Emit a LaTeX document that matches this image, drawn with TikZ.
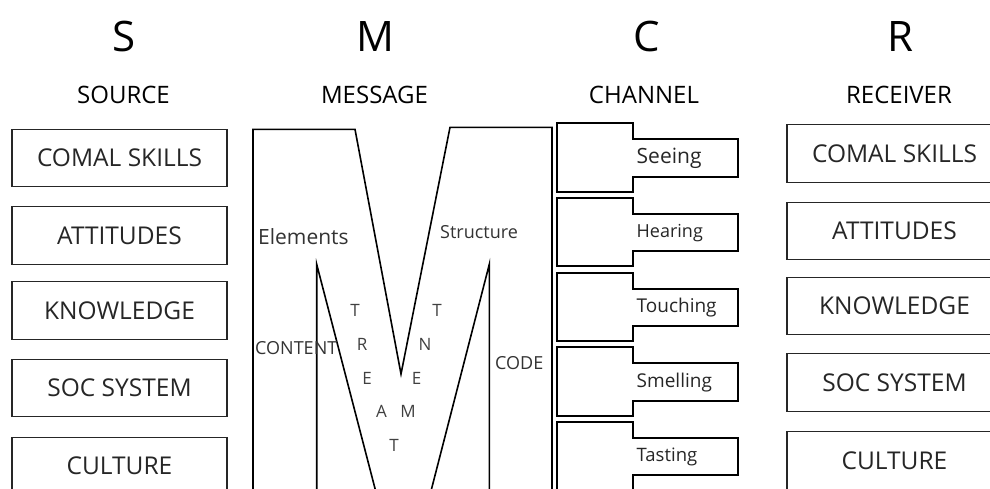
\documentclass[tikz,border=0pt]{standalone}
\usepackage{fontspec}
\setmainfont{Open Sans}
\begin{document}
\begin{tikzpicture}[x=1pt,y=-1pt,
  big/.style={font=\fontsize{42}{44}\selectfont, inner sep=0pt, anchor=base},
  head/.style={font=\fontsize{24}{26}\selectfont, inner sep=0pt, anchor=base},
  attr/.style={draw=black!85, line width=1.1pt, minimum width=215pt, minimum height=57.5pt, inner sep=0pt, font=\fontsize{24.5}{26}\selectfont, text=black!85},
  mline/.style={line width=1.6pt, line join=miter},
  chan/.style={line width=1.8pt, line join=miter},
  chtext/.style={anchor=west, inner sep=0pt, font=\fontsize{18.5}{20}\selectfont, text=black!85},
  mtext/.style={inner sep=0pt, font=\fontsize{18}{20}\selectfont, text=black!80},
  letter/.style={inner sep=0pt, font=\fontsize{17}{18}\selectfont, text=black!75}
]
\useasboundingbox (0,0) rectangle (990,488);
\clip (0,0) rectangle (990,488);

% headers
\node[big] (S) at (124,51.7) {S};
\node[big] (M) at (375,51.7) {M};
\node[big] (C) at (647,51.7) {C};
\node[big] (R) at (900,51.7) {R};
\node[head] (src) at (123.5,103.3) {SOURCE};
\node[head] (msg) at (374.5,103.3) {MESSAGE};
\node[head] (chn) at (644,103.3) {CHANNEL};
\node[head] (rcv) at (899,103.3) {RECEIVER};

% source boxes
\node[attr] (s1) at (119.5,158) {COMAL SKILLS};
\node[attr] (s2) at (119.5,235.5) {ATTITUDES};
\node[attr] (s3) at (119.5,310.5) {KNOWLEDGE};
\node[attr] (s4) at (119.5,388) {SOC SYSTEM};
\node[attr] (s5) at (119.5,465.8) {CULTURE};

% receiver boxes
\node[attr] (r1) at (894.5,153.5) {COMAL SKILLS};
\node[attr] (r2) at (894.5,231) {ATTITUDES};
\node[attr] (r3) at (894.5,306) {KNOWLEDGE};
\node[attr] (r4) at (894.5,382.5) {SOC SYSTEM};
\node[attr] (r5) at (894.5,460.5) {CULTURE};

% the big M
\draw[mline] (253,500) -- (253,129.3) -- (355,129.3) -- (401,374) -- (450,127.3) -- (552,127.3) -- (552,500);
\draw[mline] (316.7,500) -- (316.7,264.3) -- (379.3,505);
\draw[mline] (489.3,500) -- (489.3,264.3) -- (427.4,505);

\node[mtext, anchor=west] (el) at (258,237) {\fontsize{21}{22}\selectfont Elements};
\node[mtext, anchor=west] (st) at (440,232) {Structure};
\node[mtext, anchor=west] (ct) at (255,348) {CONTENT};
\node[mtext, anchor=west] (cd) at (495,363) {CODE};

\node[letter] (t1) at (355,310) {T};
\node[letter] (t2) at (362,344) {R};
\node[letter] (t3) at (367,378) {E};
\node[letter] (t4) at (381.5,411.5) {A};
\node[letter] (t5) at (408,411.5) {M};
\node[letter] (t6) at (394,445) {T};
\node[letter] (t7) at (416.5,378) {E};
\node[letter] (t8) at (425,344) {N};
\node[letter] (t9) at (437,310) {T};

% channel shapes
\foreach \t/\lab/\nm/\fs in {123.3/Seeing/c1/21, 197.7/Hearing/c2/18, 272.7/Touching/c3/19, 347.3/Smelling/c4/19, 421.7/Tasting/c5/18.5} {
  \draw[chan] (556.7,\t) -- (632.7,\t) -- (632.7,{\t+16}) -- (738.3,{\t+16}) -- (738.3,{\t+53.5}) -- (632.7,{\t+53.5}) -- (632.7,{\t+68.5}) -- (556.7,{\t+68.5}) -- cycle;
  \node[chtext, font=\fontsize{\fs}{20}\selectfont] (\nm) at (636.5,{\t+35}) {\lab};
}
\end{tikzpicture}
\end{document}
